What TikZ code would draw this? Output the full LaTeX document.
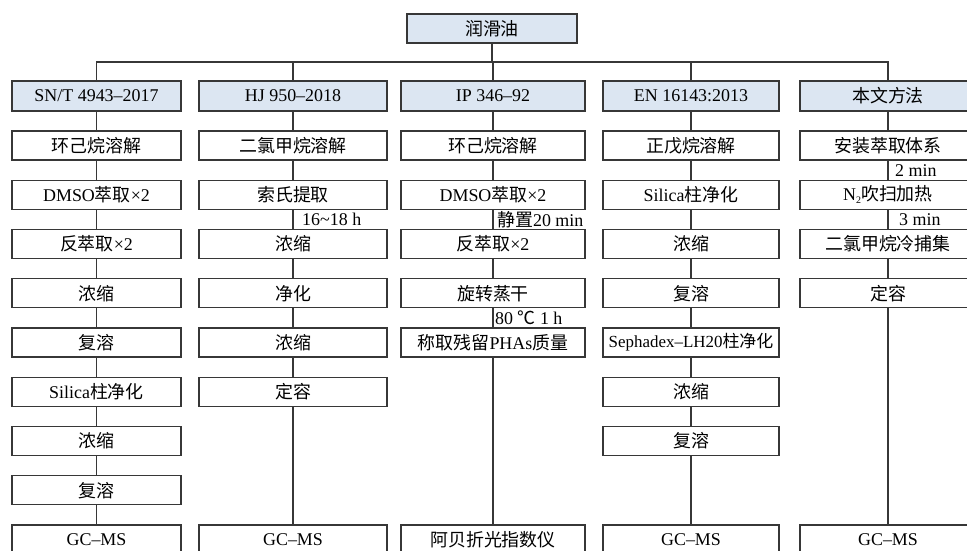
\documentclass[tikz,border=0pt]{standalone}
\usepackage{fontspec}
\setmainfont{Liberation Serif}
\newfontfamily\cjk{Noto Sans CJK SC}
\newcommand{\zh}[1]{{\cjk #1}}
\definecolor{linec}{RGB}{55,55,55}
\definecolor{headc}{RGB}{220,230,242}
\begin{document}
\begin{tikzpicture}[x=1bp,y=-1bp,
  box/.style={draw=linec, line width=1.1pt, fill=white, minimum height=29bp, inner sep=0pt, font=\fontsize{18}{20}\selectfont},
  head/.style={box, fill=headc, minimum height=30bp},
  wA/.style={minimum width=169bp},
  wB/.style={minimum width=188bp},
  wC/.style={minimum width=184bp},
  wD/.style={minimum width=176bp},
  wE/.style={minimum width=176bp},
  lbl/.style={anchor=west, inner sep=0pt, font=\fontsize{18}{20}\selectfont},
  conn/.style={draw=linec, line width=1.1pt}]
\useasboundingbox (0,0) rectangle (967,551);
\fill[white] (0,0) rectangle (967,551);
\clip (0,0) rectangle (967,551);
% top
\node[head, minimum width=170bp, minimum height=29bp] (top) at (492,28.5) {\zh{润滑油}};
% headers
\node[head, wA] (h1) at (96.5,96) {SN/T 4943--2017};
\node[head, wB] (h2) at (293,96) {HJ 950--2018};
\node[head, wC] (h3) at (493,96) {IP 346--92};
\node[head, wD] (h4) at (691,96) {EN 16143:2013};
\node[head, wE] (h5) at (888,96) {\zh{本文方法}};
\coordinate (bar) at (492,62);
% column 1
\node[box, wA] (a0) at (96.5,145.5) {\zh{环己烷溶解}};
\node[box, wA] (a1) at (96.5,194.75) {DMSO\zh{萃取}×2};
\node[box, wA] (a2) at (96.5,244) {\zh{反萃取}×2};
\node[box, wA] (a3) at (96.5,293.25) {\zh{浓缩}};
\node[box, wA] (a4) at (96.5,342.5) {\zh{复溶}};
\node[box, wA] (a5) at (96.5,391.75) {Silica\zh{柱净化}};
\node[box, wA] (a6) at (96.5,441) {\zh{浓缩}};
\node[box, wA] (a7) at (96.5,490.25) {\zh{复溶}};
\node[box, wA] (a8) at (96.5,539.5) {GC--MS};
% column 2
\node[box, wB] (b0) at (293,145.5) {\zh{二氯甲烷溶解}};
\node[box, wB] (b1) at (293,194.75) {\zh{索氏提取}};
\node[box, wB] (b2) at (293,244) {\zh{浓缩}};
\node[box, wB] (b3) at (293,293.25) {\zh{净化}};
\node[box, wB] (b4) at (293,342.5) {\zh{浓缩}};
\node[box, wB] (b5) at (293,391.75) {\zh{定容}};
\node[box, wB] (b8) at (293,539.5) {GC--MS};
% column 3
\node[box, wC] (c0) at (493,145.5) {\zh{环己烷溶解}};
\node[box, wC] (c1) at (493,194.75) {DMSO\zh{萃取}×2};
\node[box, wC] (c2) at (493,244) {\zh{反萃取}×2};
\node[box, wC] (c3) at (493,293.25) {\zh{旋转蒸干}};
\node[box, wC] (c4) at (493,342.5) {\zh{称取残留}PHAs\zh{质量}};
\node[box, wC] (c8) at (493,539.5) {\zh{阿贝折光指数仪}};
% column 4
\node[box, wD] (d0) at (691,145.5) {\zh{正戊烷溶解}};
\node[box, wD] (d1) at (691,194.75) {Silica\zh{柱净化}};
\node[box, wD] (d2) at (691,244) {\zh{浓缩}};
\node[box, wD] (d3) at (691,293.25) {\zh{复溶}};
\node[box, wD, font=\fontsize{17}{19}\selectfont] (d4) at (691,342.5) {Sephadex--LH20\zh{柱净化}};
\node[box, wD] (d5) at (691,391.75) {\zh{浓缩}};
\node[box, wD] (d6) at (691,441) {\zh{复溶}};
\node[box, wD] (d8) at (691,539.5) {GC--MS};
% column 5
\node[box, wE] (e0) at (888,145.5) {\zh{安装萃取体系}};
\node[box, wE] (e1) at (888,194.75) {N\raisebox{-0.35ex}{\fontsize{10}{10}\selectfont 2}\zh{吹扫加热}};
\node[box, wE] (e2) at (888,244) {\zh{二氯甲烷冷捕集}};
\node[box, wE] (e3) at (888,293.25) {\zh{定容}};
\node[box, wE] (e8) at (888,539.5) {GC--MS};
% connectors
\draw[conn] (top.south) -- (top.south |- bar);
\draw[conn] (h1.north) |- (h5.north |- bar) -- (h5.north);
\draw[conn] (h2.north) -- (h2.north |- bar);
\draw[conn] (h3.north) -- (h3.north |- bar);
\draw[conn] (h4.north) -- (h4.north |- bar);
\foreach \p/\q in {h1/a0,a0/a1,a1/a2,a2/a3,a3/a4,a4/a5,a5/a6,a6/a7,a7/a8,
                   h2/b0,b0/b1,b1/b2,b2/b3,b3/b4,b4/b5,b5/b8,
                   h3/c0,c0/c1,c1/c2,c2/c3,c3/c4,c4/c8,
                   h4/d0,d0/d1,d1/d2,d2/d3,d3/d4,d4/d5,d5/d6,d6/d8,
                   h5/e0,e0/e1,e1/e2,e2/e3,e3/e8}
  \draw[conn] (\p.south) -- (\q.north);
% labels
\node[lbl] (l1) at (302,219.5) {16\textasciitilde18 h};
\node[lbl] (l2) at (497,219.5) {\zh{静置}20 min};
\node[lbl] (l3) at (495,318) {80 \zh{℃} 1 h};
\node[lbl] (l4) at (895,170.5) {2 min};
\node[lbl] (l5) at (899,219.5) {3 min};
\end{tikzpicture}
\end{document}
